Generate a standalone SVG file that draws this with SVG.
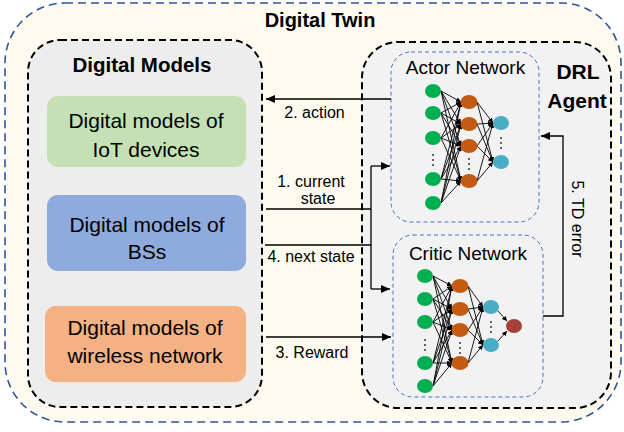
<svg xmlns="http://www.w3.org/2000/svg" width="624" height="432" viewBox="0 0 624 432">
<defs>
<style>
text{font-family:"Liberation Sans",Arial,sans-serif;fill:#000}
.title{font-size:20px;font-weight:bold;text-anchor:middle}
.box{font-size:21px;text-anchor:middle}
.net{font-size:19px;text-anchor:middle}
.lbl{font-size:16px;text-anchor:middle}
.conn{stroke:#000;stroke-width:1.3;fill:none}
.e{stroke:#000;stroke-width:0.9;fill:none;marker-end:url(#sm)}
.g{fill:#00b050}.o{fill:#c55a11}.b{fill:#4bacc6}.r{fill:#a5403a}
.dot{fill:#333}
</style>
<marker id="ar" markerUnits="userSpaceOnUse" markerWidth="10" markerHeight="10" refX="9" refY="4" orient="auto">
<path d="M0,0 L9,4 L0,8 Z" fill="#000"/>
</marker>
<marker id="sm" markerUnits="userSpaceOnUse" markerWidth="6" markerHeight="6" refX="5" refY="2.5" orient="auto">
<path d="M0,0 L5,2.5 L0,5 Z" fill="#000"/>
</marker>
</defs>

<g id="digital-twin">
<rect x="5" y="3" width="616" height="419" rx="60" ry="60" fill="#fefaf0" stroke="#2f5597" stroke-width="1.6" stroke-dasharray="8 5"/>
<text class="title" x="320" y="27">Digital Twin</text>
</g>

<g id="digital-models">
<rect x="28" y="40" width="234" height="367" rx="32" ry="32" fill="#ededed" stroke="#000" stroke-width="2" stroke-dasharray="7 4"/>
<text class="title" x="142" y="72" style="font-size:20.5px">Digital Models</text>
</g>

<g id="iot-models">
<rect x="47" y="96" width="199" height="71" rx="11" fill="#c5e0b4"/>
<text class="box" x="146" y="128">Digital models of</text>
<text class="box" x="146" y="157">IoT devices</text>
</g>

<g id="bs-models">
<rect x="47" y="195" width="199" height="76" rx="11" fill="#8faadc"/>
<text class="box" x="147" y="232">Digital models of</text>
<text class="box" x="147" y="259">BSs</text>
</g>

<g id="wireless-models">
<rect x="45" y="306" width="201" height="76" rx="11" fill="#f4b183"/>
<text class="box" x="145" y="335">Digital models of</text>
<text class="box" x="145" y="363">wireless network</text>
</g>

<g id="drl-agent">
<rect x="362" y="42" width="249" height="366" rx="36" ry="36" fill="#f2f2f2" stroke="#000" stroke-width="2" stroke-dasharray="7 4"/>
<text class="title" x="578" y="79" style="font-size:21px">DRL</text>
<text class="title" x="577" y="108" style="font-size:21px">Agent</text>
</g>

<g id="actor-network">
<rect x="391" y="52" width="148" height="170" rx="20" ry="20" fill="#f2f2f2" stroke="#4472c4" stroke-width="1" stroke-dasharray="4 3"/>
<text class="net" x="465.5" y="74">Actor Network</text>
<g>
<line class="e" x1="441" y1="91" x2="461" y2="102"/><line class="e" x1="441" y1="91" x2="461" y2="124"/><line class="e" x1="441" y1="91" x2="461" y2="146"/><line class="e" x1="441" y1="91" x2="461" y2="181"/>
<line class="e" x1="441" y1="113" x2="461" y2="102"/><line class="e" x1="441" y1="113" x2="461" y2="124"/><line class="e" x1="441" y1="113" x2="461" y2="146"/><line class="e" x1="441" y1="113" x2="461" y2="181"/>
<line class="e" x1="441" y1="138" x2="461" y2="102"/><line class="e" x1="441" y1="138" x2="461" y2="124"/><line class="e" x1="441" y1="138" x2="461" y2="146"/><line class="e" x1="441" y1="138" x2="461" y2="181"/>
<line class="e" x1="441" y1="179" x2="461" y2="102"/><line class="e" x1="441" y1="179" x2="461" y2="124"/><line class="e" x1="441" y1="179" x2="461" y2="146"/><line class="e" x1="441" y1="179" x2="461" y2="181"/>
<line class="e" x1="441" y1="203" x2="461" y2="102"/><line class="e" x1="441" y1="203" x2="461" y2="124"/><line class="e" x1="441" y1="203" x2="461" y2="146"/><line class="e" x1="441" y1="203" x2="461" y2="181"/>
<line class="e" x1="477" y1="102" x2="493" y2="123"/><line class="e" x1="477" y1="102" x2="493" y2="162"/>
<line class="e" x1="477" y1="124" x2="493" y2="123"/><line class="e" x1="477" y1="124" x2="493" y2="162"/>
<line class="e" x1="477" y1="146" x2="493" y2="123"/><line class="e" x1="477" y1="146" x2="493" y2="162"/>
<line class="e" x1="477" y1="181" x2="493" y2="123"/><line class="e" x1="477" y1="181" x2="493" y2="162"/>
</g>
<ellipse class="g" cx="433" cy="91" rx="8" ry="7"/><ellipse class="g" cx="433" cy="113" rx="8" ry="7"/><ellipse class="g" cx="433" cy="138" rx="8" ry="7"/><ellipse class="g" cx="433" cy="179" rx="8" ry="7"/><ellipse class="g" cx="433" cy="203" rx="8" ry="7"/>
<circle class="dot" cx="433" cy="155" r="1"/><circle class="dot" cx="433" cy="160" r="1"/><circle class="dot" cx="433" cy="165" r="1"/>
<ellipse class="o" cx="469" cy="102" rx="8.5" ry="7"/><ellipse class="o" cx="469" cy="124" rx="8.5" ry="7"/><ellipse class="o" cx="469" cy="146" rx="8.5" ry="7"/><ellipse class="o" cx="469" cy="181" rx="8.5" ry="7"/>
<circle class="dot" cx="469" cy="159" r="1"/><circle class="dot" cx="469" cy="164" r="1"/><circle class="dot" cx="469" cy="169" r="1"/>
<ellipse class="b" cx="501" cy="123" rx="8" ry="7"/><ellipse class="b" cx="501" cy="162" rx="8" ry="7"/>
<circle class="dot" cx="501" cy="138" r="1"/><circle class="dot" cx="501" cy="143" r="1"/><circle class="dot" cx="501" cy="148" r="1"/>
</g>

<g id="critic-network">
<rect x="393" y="235" width="150" height="162" rx="20" ry="20" fill="#f2f2f2" stroke="#4472c4" stroke-width="1" stroke-dasharray="4 3"/>
<text class="net" x="468" y="260">Critic Network</text>
<g>
<line class="e" x1="433" y1="276" x2="452" y2="286"/><line class="e" x1="433" y1="276" x2="452" y2="309"/><line class="e" x1="433" y1="276" x2="452" y2="330"/><line class="e" x1="433" y1="276" x2="452" y2="363"/>
<line class="e" x1="433" y1="299" x2="452" y2="286"/><line class="e" x1="433" y1="299" x2="452" y2="309"/><line class="e" x1="433" y1="299" x2="452" y2="330"/><line class="e" x1="433" y1="299" x2="452" y2="363"/>
<line class="e" x1="433" y1="322" x2="452" y2="286"/><line class="e" x1="433" y1="322" x2="452" y2="309"/><line class="e" x1="433" y1="322" x2="452" y2="330"/><line class="e" x1="433" y1="322" x2="452" y2="363"/>
<line class="e" x1="433" y1="363" x2="452" y2="286"/><line class="e" x1="433" y1="363" x2="452" y2="309"/><line class="e" x1="433" y1="363" x2="452" y2="330"/><line class="e" x1="433" y1="363" x2="452" y2="363"/>
<line class="e" x1="433" y1="386" x2="452" y2="286"/><line class="e" x1="433" y1="386" x2="452" y2="309"/><line class="e" x1="433" y1="386" x2="452" y2="330"/><line class="e" x1="433" y1="386" x2="452" y2="363"/>
<line class="e" x1="468" y1="286" x2="483" y2="307"/><line class="e" x1="468" y1="286" x2="483" y2="345"/>
<line class="e" x1="468" y1="309" x2="483" y2="307"/><line class="e" x1="468" y1="309" x2="483" y2="345"/>
<line class="e" x1="468" y1="330" x2="483" y2="307"/><line class="e" x1="468" y1="330" x2="483" y2="345"/>
<line class="e" x1="468" y1="363" x2="483" y2="307"/><line class="e" x1="468" y1="363" x2="483" y2="345"/>
<line class="e" x1="498" y1="311" x2="507" y2="321"/><line class="e" x1="498" y1="341" x2="507" y2="331"/>
</g>
<ellipse class="g" cx="425" cy="276" rx="8" ry="7"/><ellipse class="g" cx="425" cy="299" rx="8" ry="7"/><ellipse class="g" cx="425" cy="322" rx="8" ry="7"/><ellipse class="g" cx="425" cy="363" rx="8" ry="7"/><ellipse class="g" cx="425" cy="386" rx="8" ry="7"/>
<circle class="dot" cx="425" cy="340" r="1"/><circle class="dot" cx="425" cy="345" r="1"/><circle class="dot" cx="425" cy="350" r="1"/>
<ellipse class="o" cx="460" cy="286" rx="8.5" ry="7"/><ellipse class="o" cx="460" cy="309" rx="8.5" ry="7"/><ellipse class="o" cx="460" cy="330" rx="8.5" ry="7"/><ellipse class="o" cx="460" cy="363" rx="8.5" ry="7"/>
<circle class="dot" cx="460" cy="343" r="1"/><circle class="dot" cx="460" cy="348" r="1"/><circle class="dot" cx="460" cy="353" r="1"/>
<ellipse class="b" cx="491" cy="307" rx="8" ry="7"/><ellipse class="b" cx="491" cy="345" rx="8" ry="7"/>
<circle class="dot" cx="491" cy="322" r="1"/><circle class="dot" cx="491" cy="327" r="1"/><circle class="dot" cx="491" cy="332" r="1"/>
<ellipse class="r" cx="514" cy="326" rx="8" ry="7"/>
</g>

<g id="connectors">
<line class="conn" x1="391" y1="99" x2="266" y2="99" marker-end="url(#ar)"/>
<text class="lbl" x="314.5" y="118">2. action</text>
<polyline class="conn" points="266,209 371,209"/>
<polyline class="conn" points="371,166 371,289"/>
<line class="conn" x1="371" y1="166" x2="390" y2="166" marker-end="url(#ar)"/>
<line class="conn" x1="371" y1="289" x2="390" y2="289" marker-end="url(#ar)"/>
<text class="lbl" x="311" y="187">1. current</text>
<text class="lbl" x="318" y="204">state</text>
<polyline class="conn" points="265,245 371,245"/>
<text class="lbl" x="311" y="262">4. next state</text>
<line class="conn" x1="266" y1="337" x2="391" y2="337" marker-end="url(#ar)"/>
<text class="lbl" x="312" y="358">3. Reward</text>
<polyline class="conn" points="543,316 563,316 563,136 541,136" marker-end="url(#ar)"/>
<text class="lbl" x="0" y="0" transform="translate(572,219) rotate(90)">5. TD error</text>
</g>
</svg>
